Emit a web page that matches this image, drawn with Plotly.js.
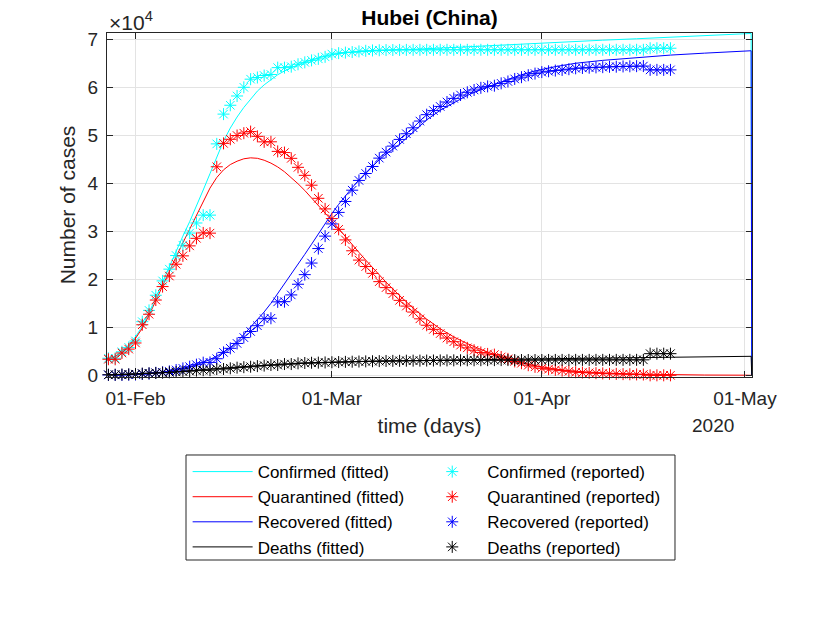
<!DOCTYPE html>
<html>
<head>
<meta charset="utf-8">
<script src="https://cdn.plot.ly/plotly-3.0.1.min.js"></script>
<style>
  body { margin: 0; background: #fff; }
  #chart { width: 830px; height: 623px; }
</style>
</head>
<body>
<div id="chart"></div>
<script>
// reported data, one value per day (28 Jan - 20 Apr 2020)
var reportedDates = [
  '2020-01-28', '2020-01-29', '2020-01-30', '2020-01-31', '2020-02-01', '2020-02-02', '2020-02-03',
  '2020-02-04', '2020-02-05', '2020-02-06', '2020-02-07', '2020-02-08', '2020-02-09', '2020-02-10',
  '2020-02-11', '2020-02-12', '2020-02-13', '2020-02-14', '2020-02-15', '2020-02-16', '2020-02-17',
  '2020-02-18', '2020-02-19', '2020-02-20', '2020-02-21', '2020-02-22', '2020-02-23', '2020-02-24',
  '2020-02-25', '2020-02-26', '2020-02-27', '2020-02-28', '2020-02-29', '2020-03-01', '2020-03-02',
  '2020-03-03', '2020-03-04', '2020-03-05', '2020-03-06', '2020-03-07', '2020-03-08', '2020-03-09',
  '2020-03-10', '2020-03-11', '2020-03-12', '2020-03-13', '2020-03-14', '2020-03-15', '2020-03-16',
  '2020-03-17', '2020-03-18', '2020-03-19', '2020-03-20', '2020-03-21', '2020-03-22', '2020-03-23',
  '2020-03-24', '2020-03-25', '2020-03-26', '2020-03-27', '2020-03-28', '2020-03-29', '2020-03-30',
  '2020-03-31', '2020-04-01', '2020-04-02', '2020-04-03', '2020-04-04', '2020-04-05', '2020-04-06',
  '2020-04-07', '2020-04-08', '2020-04-09', '2020-04-10', '2020-04-11', '2020-04-12', '2020-04-13',
  '2020-04-14', '2020-04-15', '2020-04-16', '2020-04-17', '2020-04-18', '2020-04-19', '2020-04-20'
];
var confirmedRep = [
  3554, 3554, 4903, 5806, 7153, 11177, 13522, 16678, 19665, 22112, 24953, 27100, 29631, 31728,
  33366, 33366, 48206, 54406, 56249, 58182, 59989, 61682, 62031, 62442, 62662, 64084, 64084, 64287,
  64786, 65187, 65596, 65914, 66337, 66907, 67103, 67217, 67332, 67466, 67592, 67666, 67707, 67743,
  67760, 67773, 67781, 67786, 67790, 67794, 67798, 67799, 67800, 67800, 67800, 67800, 67800, 67800,
  67801, 67801, 67801, 67801, 67801, 67801, 67801, 67801, 67802, 67802, 67803, 67803, 67803, 67803,
  67803, 67803, 67803, 67803, 67803, 67803, 67803, 67803, 67803, 67803, 68128, 68128, 68128, 68128
];
var quarantinedRep = [
  3349, 3341, 4651, 5461, 6736, 10532, 12722, 15677, 18483, 20677, 23139, 24881, 26965, 28532,
  29659, 29612, 43437, 48314, 49169, 49947, 50431, 50765, 49773, 48625, 48637, 46641, 46395, 45193,
  43320, 41655, 39598, 36870, 34662, 32644, 30408, 28206, 25940, 24003, 22657, 21235, 19513, 18269,
  17009, 15615, 14417, 13177, 11768, 10431, 9571, 8697, 7762, 6996, 6288, 5721, 5228, 4765,
  4460, 4314, 3821, 3426, 2892, 2521, 2106, 1771, 1456, 1277, 1129, 984, 831, 646,
  577, 517, 446, 400, 320, 303, 246, 221, 188, 171, 0, 0, 0, 0
];
var recoveredRep = [
  80, 88, 90, 141, 168, 295, 386, 522, 633, 817, 1115, 1439, 1795, 2222,
  2639, 2686, 3459, 4774, 5623, 6639, 7862, 9128, 10337, 11788, 11881, 15299, 15343, 16748,
  18971, 20969, 23383, 26403, 28993, 31536, 33934, 36208, 38557, 40592, 42033, 43500, 45235, 46488,
  47743, 49134, 50318, 51553, 52960, 54288, 55142, 56003, 56927, 57682, 58382, 58946, 59433, 59882,
  60181, 60324, 60811, 61201, 61732, 62098, 62509, 62843, 63153, 63326, 63471, 63612, 63762, 63945,
  64014, 64073, 64142, 64187, 64264, 64281, 64338, 64363, 64393, 64410, 63616, 63616, 63616, 63616
];
var deathsRep = [
  125, 125, 162, 204, 249, 350, 414, 479, 549, 618, 699, 780, 871, 974,
  1068, 1068, 1310, 1318, 1457, 1596, 1696, 1789, 1921, 2029, 2144, 2144, 2346, 2346,
  2495, 2563, 2615, 2641, 2682, 2727, 2761, 2803, 2835, 2871, 2902, 2931, 2959, 2986,
  3008, 3024, 3046, 3056, 3062, 3075, 3085, 3099, 3111, 3122, 3130, 3133, 3139, 3153,
  3160, 3163, 3169, 3174, 3177, 3182, 3186, 3187, 3193, 3199, 3203, 3207, 3210, 3212,
  3212, 3213, 3215, 3216, 3219, 3219, 3219, 3219, 3222, 3222, 4512, 4512, 4512, 4512
];

// fitted model curves (the last sample drops to zero, as in the original)
var fitDates = [
  '2020-01-28', '2020-01-29', '2020-01-30', '2020-01-31', '2020-02-01', '2020-02-02', '2020-02-03',
  '2020-02-04', '2020-02-05', '2020-02-06', '2020-02-07', '2020-02-08', '2020-02-09', '2020-02-10',
  '2020-02-11', '2020-02-12', '2020-02-13', '2020-02-14', '2020-02-15', '2020-02-16', '2020-02-17',
  '2020-02-18', '2020-02-19', '2020-02-20', '2020-02-21', '2020-02-22', '2020-02-23', '2020-02-24',
  '2020-02-25', '2020-02-26', '2020-02-27', '2020-02-28', '2020-02-29', '2020-03-01', '2020-03-02',
  '2020-03-03', '2020-03-04', '2020-03-05', '2020-03-06', '2020-03-07', '2020-03-08', '2020-03-09',
  '2020-03-11', '2020-03-13', '2020-03-15', '2020-03-17', '2020-03-19', '2020-03-21', '2020-03-23',
  '2020-03-25', '2020-03-27', '2020-03-29', '2020-03-31', '2020-04-03', '2020-04-06', '2020-04-10',
  '2020-04-15', '2020-04-20', '2020-04-25', '2020-05-01', '2020-05-01 22:00', '2020-05-02'
];
var confirmedFit = [
  3400, 4000, 5000, 6300, 8000, 10200, 13000, 16200, 19600, 22800, 26000, 29000, 32000, 35200,
  38600, 42000, 45500, 48800, 51500, 53800, 55800, 57600, 59200, 60500, 61600, 62600, 63400, 64100,
  64700, 65200, 65700, 66100, 66500, 66800, 67000, 67200, 67300, 67400, 67500, 67600, 67700, 67750,
  67850, 67900, 68000, 68100, 68250, 68400, 68550, 68700, 68850, 69000, 69150,
  69350, 69550, 69800, 70100, 70400, 70750, 71150, 71200, 0
];
var quarantinedFit = [
  3300, 3900, 4800, 6100, 7700, 9800, 12500, 15600, 18800, 21800, 24700, 27600, 30500, 33500,
  36400, 39000, 41200, 42800, 43900, 44600, 45100, 45300, 45200, 44800, 44200, 43400, 42400, 41200,
  39900, 38500, 37000, 35400, 33800, 32200, 30500, 28800, 27200, 25600, 24000, 22400, 20900, 19400,
  16600, 14000, 11700, 9700, 8000, 6600, 5400, 4300, 3400, 2600, 2000,
  1300, 850, 500, 250, 120, 60, 30, 30, 0
];
var recoveredFit = [
  0, 20, 50, 100, 150, 200, 300, 400, 600, 800, 1100, 1400, 1800, 2200,
  2700, 3300, 4000, 4800, 5800, 7000, 8500, 10000, 11500, 13200, 15000, 17000, 19000, 21000,
  23100, 25200, 27300, 29500, 31600, 33700, 35600, 37400, 39100, 40700, 42200, 43600, 44900, 46100,
  48100, 50700, 53200, 55200, 56800, 58300, 59500, 60600, 61600, 62600, 63400,
  64300, 65000, 65600, 66200, 66700, 67100, 67500, 67600, 0
];
var deathsFit = [
  120, 160, 200, 250, 300, 360, 430, 500, 580, 670, 760, 860, 960, 1060,
  1170, 1280, 1390, 1500, 1610, 1720, 1820, 1920, 2010, 2100, 2180, 2260, 2330, 2400,
  2460, 2520, 2570, 2620, 2670, 2710, 2750, 2790, 2830, 2860, 2890, 2920, 2950, 2980,
  3030, 3080, 3130, 3170, 3210, 3250, 3290, 3320, 3360, 3390, 3420,
  3470, 3520, 3580, 3660, 3740, 3830, 3950, 3960, 0
];

var seriesNames = ['Confirmed', 'Quarantined', 'Recovered', 'Deaths'];
var seriesColors = ['#00ffff', '#ff0000', '#0000ff', '#000000'];
var fitted = [confirmedFit, quarantinedFit, recoveredFit, deathsFit];
var reported = [confirmedRep, quarantinedRep, recoveredRep, deathsRep];

var xTickVals = ['2020-02-01', '2020-03-01', '2020-04-01', '2020-05-01'];
var xTickText = ['01-Feb', '01-Mar', '01-Apr', '01-May'];
var yTickVals = [0, 10000, 20000, 30000, 40000, 50000, 60000, 70000];
var yTickText = ['0', '1', '2', '3', '4', '5', '6', '7'];

var data = [];
// fitted lines first so the stars sit on top; fitted go in the left legend column
for (var i = 0; i < seriesNames.length; i++) {
  data.push({
    x: fitDates,
    y: fitted[i],
    type: 'scatter',
    mode: 'lines',
    name: seriesNames[i] + ' (fitted)',
    line: {color: seriesColors[i], width: 1},
    legend: 'legend',
    hoverinfo: 'x+y+name'
  });
}
for (var j = 0; j < seriesNames.length; j++) {
  data.push({
    x: reportedDates,
    y: reported[j],
    type: 'scatter',
    mode: 'markers',
    name: seriesNames[j] + ' (reported)',
    marker: {symbol: 'asterisk-open', size: 10, color: seriesColors[j],
             line: {color: seriesColors[j], width: 1}},
    cliponaxis: false,
    legend: 'legend2',
    hoverinfo: 'x+y+name'
  });
}

var axisColor = '#262626';
var gridColor = '#e3e3e3';
var fontFamily = '"Liberation Sans", Arial, Helvetica, sans-serif';

function legendColumn(xPos) {
  return {
    orientation: 'v',
    x: xPos, xanchor: 'left',
    y: -0.224, yanchor: 'top',
    bgcolor: 'rgba(0,0,0,0)',
    borderwidth: 0,
    font: {size: 17, color: '#000000'},
    itemwidth: 60,
    traceorder: 'normal',
    tracegroupgap: 0
  };
}

var layout = {
  width: 830,
  height: 623,
  margin: {l: 107, r: 78, t: 33, b: 246, pad: 0},
  paper_bgcolor: '#ffffff',
  plot_bgcolor: '#ffffff',
  font: {family: fontFamily, color: axisColor, size: 19},
  showlegend: true,
  title: {
    text: '<b>Hubei (China)</b>',
    font: {family: fontFamily, size: 21, color: '#000000'},
    xref: 'paper', x: 0.5, xanchor: 'center',
    yref: 'container', y: 0.972, yanchor: 'middle'
  },
  xaxis: {
    type: 'date',
    range: ['2020-01-27 19:00', '2020-05-02 01:00'],
    tickmode: 'array',
    tickvals: xTickVals,
    ticktext: xTickText,
    ticks: 'inside', ticklen: 6, tickcolor: axisColor, tickwidth: 1,
    showline: true, linecolor: axisColor, linewidth: 1, mirror: 'ticks',
    showgrid: true, gridcolor: gridColor, gridwidth: 1,
    zeroline: false,
    tickfont: {size: 19, color: axisColor},
    ticklabelstandoff: 4,
    title: {text: 'time (days)', font: {size: 21, color: axisColor}, standoff: 10}
  },
  yaxis: {
    range: [-350, 71300],
    tickmode: 'array',
    tickvals: yTickVals,
    ticktext: yTickText,
    ticks: 'inside', ticklen: 6, tickcolor: axisColor, tickwidth: 1,
    showline: true, linecolor: axisColor, linewidth: 1, mirror: 'ticks',
    showgrid: true, gridcolor: gridColor, gridwidth: 1,
    zeroline: false,
    tickfont: {size: 19, color: axisColor},
    ticklabelstandoff: 4,
    title: {text: 'Number of cases', font: {size: 21, color: axisColor}, standoff: 6}
  },
  legend: legendColumn(0.125),
  legend2: legendColumn(0.481),
  // legend frame, sized like the original box
  shapes: [
    {
      type: 'rect', xref: 'paper', yref: 'paper', layer: 'below',
      x0: 0.1225, x1: 0.8806, y0: -0.532, y1: -0.2267,
      line: {color: axisColor, width: 1}, fillcolor: '#ffffff'
    }
  ],
  annotations: [
    {
      text: '\u00d710<sup>4</sup>',
      xref: 'paper', yref: 'paper',
      x: 0, y: 1, xanchor: 'left', yanchor: 'bottom',
      xshift: 0, yshift: -3,
      showarrow: false,
      font: {size: 21, color: axisColor}
    },
    {
      text: '2020',
      xref: 'paper', yref: 'paper',
      x: 0.94, y: -0.14, xanchor: 'center', yanchor: 'middle',
      showarrow: false,
      font: {size: 19, color: axisColor}
    }
  ]
};

Plotly.newPlot('chart', data, layout, {displayModeBar: false, responsive: false});
</script>
</body>
</html>
